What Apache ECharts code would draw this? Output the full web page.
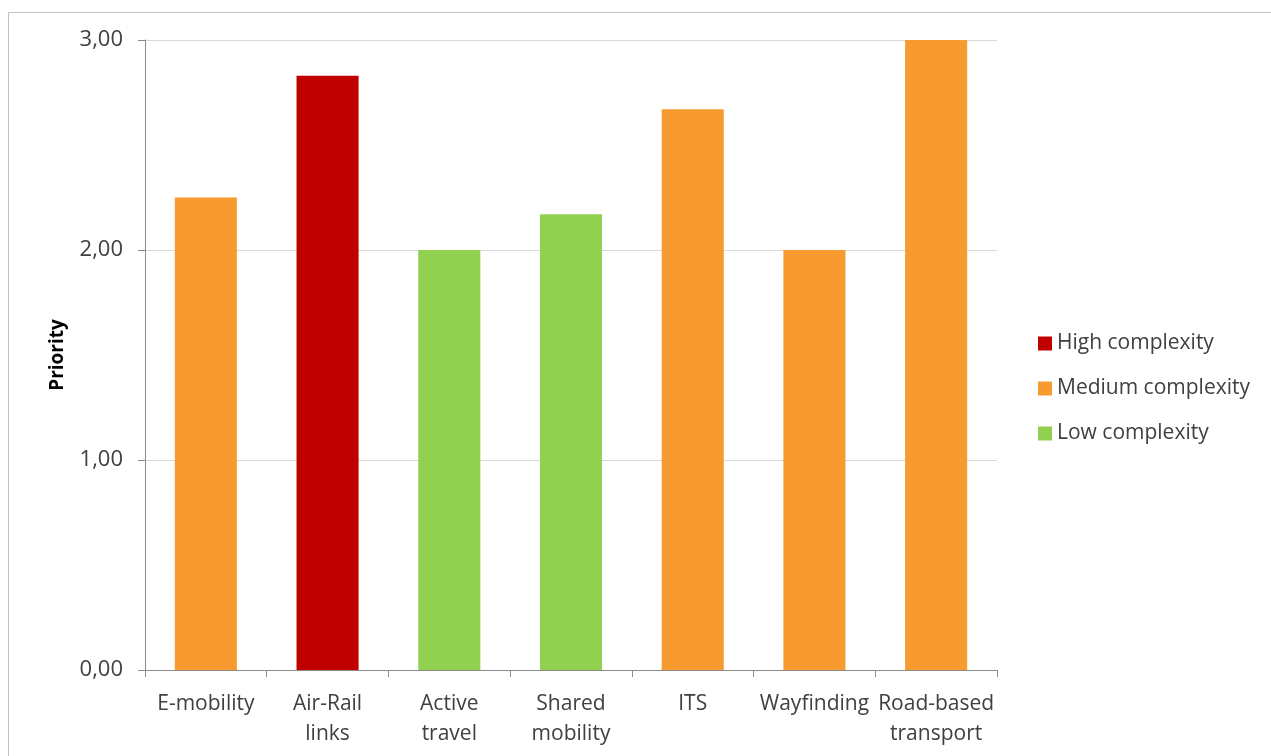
<!DOCTYPE html>
<html>
<head>
<meta charset="utf-8">
<script src="https://cdn.jsdelivr.net/npm/echarts@6/dist/echarts.min.js"></script>
<style>
  html, body { margin: 0; padding: 0; background: #fff; }
  #chart { width: 1271px; height: 756px; }
</style>
</head>
<body>
<div id="chart"></div>
<script>
var categories = ['E-mobility', 'Air-Rail\nlinks', 'Active\ntravel', 'Shared\nmobility', 'ITS', 'Wayfinding', 'Road-based\ntransport'];
// one array per complexity group, '-' where the category is not in that group
var highValues = ['-', 2.83, '-', '-', '-', '-', '-'];
var mediumValues = [2.25, '-', '-', '-', 2.67, 2.00, 3.00];
var lowValues = ['-', '-', 2.00, 2.17, '-', '-', '-'];
var yTicks = [0, 1, 2, 3];

var font = '"Open Sans", "Liberation Sans", sans-serif';
var textColor = '#404040';

var chart = echarts.init(document.getElementById('chart'));

var option = {
  backgroundColor: '#fff',
  animation: false,
  textStyle: { fontFamily: font },
  graphic: [{
    type: 'rect',
    shape: { x: 8.5, y: 12.5, width: 1400, height: 900 },
    style: { fill: 'none', stroke: '#c0c0c0', lineWidth: 1 },
    silent: true
  }],
  grid: {
    left: 145,
    right: 274,
    top: 40,
    bottom: 86
  },
  legend: {
    orient: 'vertical',
    left: 1033,
    top: 328,
    icon: 'rect',
    itemWidth: 14,
    itemHeight: 14,
    itemGap: 24,
    textStyle: { fontSize: 21, color: textColor, fontFamily: font },
    data: ['High complexity', 'Medium complexity', 'Low complexity']
  },
  xAxis: {
    type: 'category',
    data: categories,
    axisLine: { lineStyle: { color: '#8c8c8c', width: 1 } },
    axisTick: { show: true, length: 7, lineStyle: { color: '#8c8c8c' } },
    axisLabel: {
      interval: 0,
      margin: 19,
      fontSize: 21,
      lineHeight: 30,
      color: textColor,
      fontFamily: font
    }
  },
  yAxis: {
    type: 'value',
    min: yTicks[0],
    max: yTicks[yTicks.length - 1],
    interval: 1,
    name: 'Priority',
    nameLocation: 'middle',
    nameGap: 78,
    nameRotate: 90,
    nameTextStyle: { fontSize: 19, fontWeight: 'bold', color: '#000', fontFamily: font },
    axisLine: { show: true, lineStyle: { color: '#8c8c8c', width: 1 } },
    axisTick: { show: true, length: 7, lineStyle: { color: '#8c8c8c' } },
    splitLine: { lineStyle: { color: '#d9d9d9', width: 1 } },
    axisLabel: {
      margin: 22,
      fontSize: 22,
      color: textColor,
      fontFamily: font,
      formatter: function (v) { return v.toFixed(2).replace('.', ','); }
    }
  },
  series: [
    {
      name: 'High complexity',
      type: 'bar',
      stack: 'all',
      barWidth: '51%',
      itemStyle: { color: '#c00000' },
      data: highValues
    },
    {
      name: 'Medium complexity',
      type: 'bar',
      stack: 'all',
      barWidth: '51%',
      itemStyle: { color: '#f79a30' },
      data: mediumValues
    },
    {
      name: 'Low complexity',
      type: 'bar',
      stack: 'all',
      barWidth: '51%',
      itemStyle: { color: '#92d050' },
      data: lowValues
    }
  ]
};

chart.setOption(option);
</script>
</body>
</html>
